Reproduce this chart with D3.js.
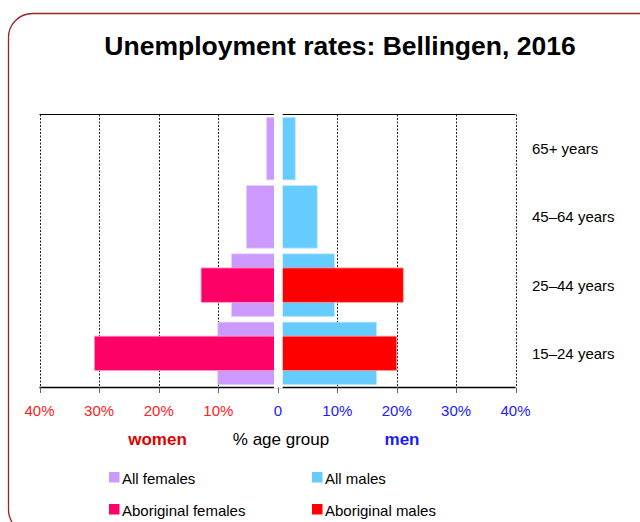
<!DOCTYPE html>
<meta charset="utf-8">
<style>
body { margin: 0; background: #fff; }
text { font-family: "Liberation Sans", Arial, sans-serif; }
.tick-l { fill: #ff2020; font-size: 15px; }
.tick-r { fill: #2020ff; font-size: 15px; }
.cat { font-size: 15px; fill: #000; }
.legend text { font-size: 15px; fill: #000; }
</style>
<body>
<script src="https://d3js.org/d3.v7.min.js"></script>
<script>

// age groups, top to bottom
var ageGroups = ["65+ years", "45\u201364 years", "25\u201344 years", "15\u201324 years"];
// unemployment rate (%)
var allFemales = [1.9, 5.3, 7.8, 10.1];
var aborigFemales = [null, null, 12.9, 30.8];
var allMales = [2.9, 6.6, 9.5, 16.6];
var aborigMales = [null, null, 21.1, 20.0];
var tickValues = [0, 10, 20, 30, 40];

var width = 640,
    height = 522;

var x0 = 278, yTop = 114.5, yBottom = 387.5;

var xLeft = d3.scaleLinear().domain([0, 40]).range([x0, 39.5]);
var xRight = d3.scaleLinear().domain([0, 40]).range([x0, 515.5]);

var y = d3.scaleBand()
    .domain(ageGroups)
    .range([yTop, yBottom])
    .paddingInner(0.084)
    .paddingOuter(0.042);

var svg = d3.select("body").append("svg")
    .attr("width", width)
    .attr("height", height);

// frame
svg.append("rect")
    .attr("x", 8.5).attr("y", 13.5)
    .attr("width", 660).attr("height", 520)
    .attr("rx", 24).attr("ry", 24)
    .attr("fill", "none")
    .attr("stroke", "#9b2226")
    .attr("stroke-width", 1.3);

svg.append("text")
    .attr("x", 340).attr("y", 55)
    .attr("text-anchor", "middle")
    .style("font-size", "26.5px")
    .style("font-weight", "bold")
    .text("Unemployment rates: Bellingen, 2016");

// gridlines
var grid = svg.append("g");
[xLeft, xRight].forEach(function(sc) {
  grid.selectAll(null)
      .data(tickValues.filter(function(d) { return d > 0; }))
      .enter().append("line")
      .attr("x1", function(d) { return Math.round(sc(d)) + 0.5; })
      .attr("x2", function(d) { return Math.round(sc(d)) + 0.5; })
      .attr("y1", yTop).attr("y2", yBottom)
      .attr("stroke", "#222")
      .attr("stroke-dasharray", "2,1.5");
});

// frame lines top and bottom
svg.append("line").attr("x1", 39.5).attr("x2", 515.5).attr("y1", yTop).attr("y2", yTop)
    .attr("stroke", "#000").attr("stroke-width", 1);
svg.append("line").attr("x1", 39.5).attr("x2", 515.5).attr("y1", yBottom).attr("y2", yBottom)
    .attr("stroke", "#000").attr("stroke-width", 1.3);

function drawBars(vals, sc, colour, edge, frac) {
  svg.append("g").selectAll("rect")
      .data(ageGroups.map(function(g, i) { return {g: g, v: vals[i]}; })
        .filter(function(d) { return d.v != null; }))
      .enter().append("rect")
      .attr("x", function(d) { return Math.min(sc(0), sc(d.v)); })
      .attr("width", function(d) { return Math.abs(sc(d.v) - sc(0)); })
      .attr("y", function(d) { return y(d.g) + y.bandwidth() * (1 - frac) / 2; })
      .attr("height", y.bandwidth() * frac)
      .attr("fill", colour)
      .attr("stroke", edge)
      .attr("stroke-width", 0.8);
}

drawBars(allFemales, xLeft, "#cc99ff", "#e4ccff", 1);
drawBars(allMales, xRight, "#66ccff", "#b8e6ff", 1);
drawBars(aborigFemales, xLeft, "#ff0066", "#ff99c2", 0.55);
drawBars(aborigMales, xRight, "#ff0000", "#ff9999", 0.55);

// white gap in the middle
svg.append("rect")
    .attr("x", 274).attr("y", yTop - 2)
    .attr("width", 8.7).attr("height", yBottom - yTop + 3)
    .attr("fill", "#fff");

// ticks under the axis
var ticks = svg.append("g");
[xLeft, xRight].forEach(function(sc) {
  ticks.selectAll(null)
      .data(tickValues)
      .enter().append("line")
      .attr("x1", function(d) { return Math.round(sc(d)) + 0.5; })
      .attr("x2", function(d) { return Math.round(sc(d)) + 0.5; })
      .attr("y1", yBottom).attr("y2", yBottom + 5.5)
      .attr("stroke", "#666");
});

// tick labels
svg.append("g").selectAll("text")
    .data(tickValues.filter(function(d) { return d > 0; }))
    .enter().append("text")
    .attr("class", "tick-l")
    .attr("x", function(d) { return xLeft(d); })
    .attr("y", 416)
    .attr("text-anchor", "middle")
    .text(function(d) { return d + "%"; });

svg.append("g").selectAll("text")
    .data(tickValues)
    .enter().append("text")
    .attr("class", "tick-r")
    .attr("x", function(d) { return xRight(d); })
    .attr("y", 416)
    .attr("text-anchor", "middle")
    .text(function(d) { return d === 0 ? "0" : d + "%"; });

// category labels
svg.append("g").selectAll("text")
    .data(ageGroups)
    .enter().append("text")
    .attr("class", "cat")
    .attr("x", 532)
    .attr("y", function(d) { return y(d) + y.bandwidth() / 2; })
    .attr("dy", "0.37em")
    .text(function(d) { return d; });

// axis captions
svg.append("text").attr("x", 157.5).attr("y", 445).attr("text-anchor", "middle")
    .style("font-size", "17px").style("font-weight", "bold").style("fill", "#e00000")
    .text("women");
svg.append("text").attr("x", 281).attr("y", 445).attr("text-anchor", "middle")
    .style("font-size", "17px")
    .text("% age group");
svg.append("text").attr("x", 402).attr("y", 445).attr("text-anchor", "middle")
    .style("font-size", "17px").style("font-weight", "bold").style("fill", "#1a1aff")
    .text("men");

// legend
var legendItems = [
  {name: "All females", colour: "#cc99ff", x: 109, y: 472},
  {name: "All males", colour: "#66ccff", x: 312, y: 472},
  {name: "Aboriginal females", colour: "#ff0066", x: 109, y: 504},
  {name: "Aboriginal males", colour: "#ff0000", x: 312, y: 504}
];

var lg = svg.append("g").attr("class", "legend")
  .selectAll("g")
    .data(legendItems)
    .enter().append("g")
    .attr("transform", function(d) { return "translate(" + d.x + "," + d.y + ")"; });

lg.append("rect")
    .attr("width", 10.5).attr("height", 10.5)
    .attr("fill", function(d) { return d.colour; });

lg.append("text")
    .attr("x", 13).attr("y", 12)
    .text(function(d) { return d.name; });

</script>
